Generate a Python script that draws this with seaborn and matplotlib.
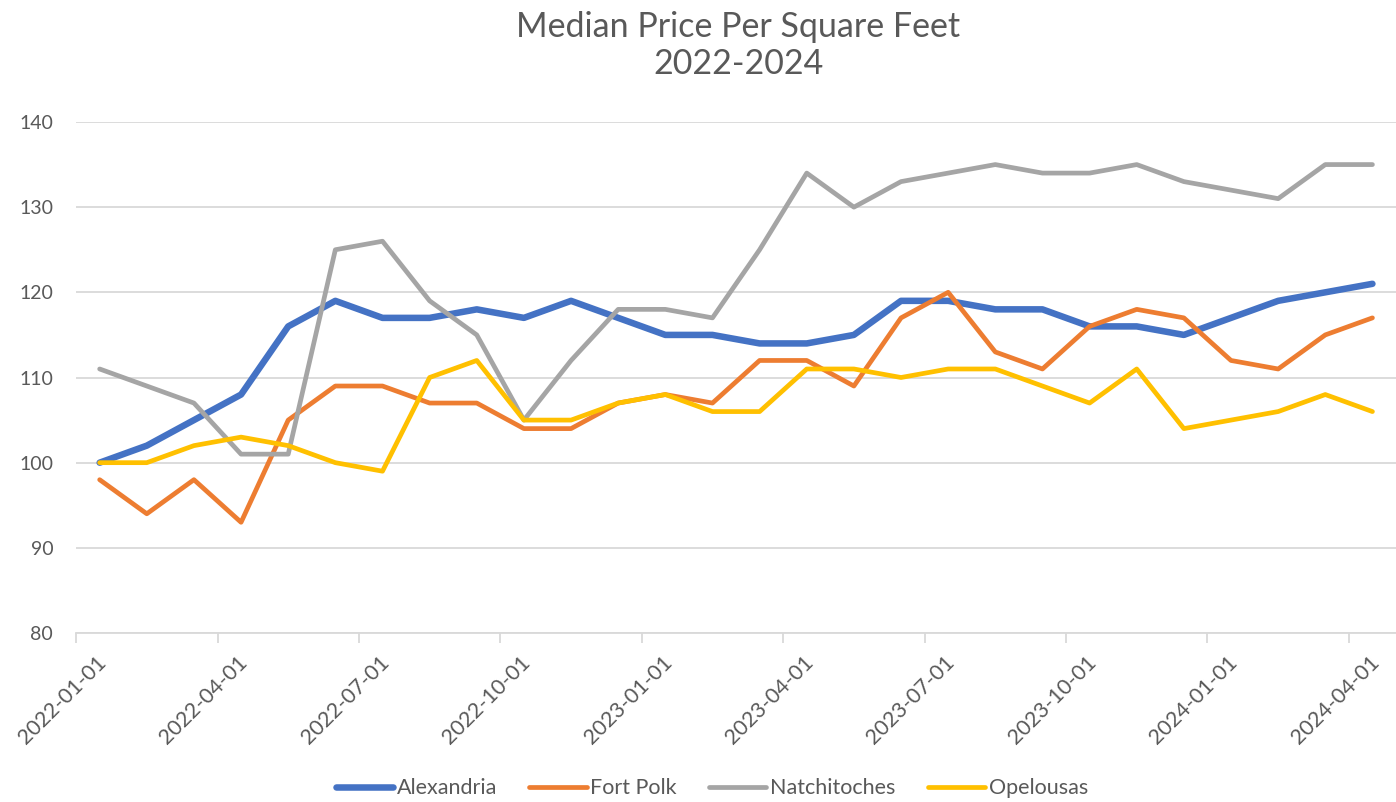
import matplotlib
matplotlib.use("Agg")
import matplotlib.pyplot as plt
import matplotlib.transforms as mtransforms
import seaborn as sns
import pandas as pd
import numpy as np

months = pd.date_range("2022-01-01", "2024-04-01", freq="MS").strftime("%Y-%m-%d").tolist()

alexandria = [100, 102, 105, 108, 116, 119, 117, 117, 118, 117, 119, 117, 115, 115,
              114, 114, 115, 119, 119, 118, 118, 116, 116, 115, 117, 119, 120, 121]
fort_polk = [98, 94, 98, 93, 105, 109, 109, 107, 107, 104, 104, 107, 108, 107,
             112, 112, 109, 117, 120, 113, 111, 116, 118, 117, 112, 111, 115, 117]
natchitoches = [111, 109, 107, 101, 101, 125, 126, 119, 115, 105, 112, 118, 118, 117,
                125, 134, 130, 133, 134, 135, 134, 134, 135, 133, 132, 131, 135, 135]
opelousas = [100, 100, 102, 103, 102, 100, 99, 110, 112, 105, 105, 107, 108, 106,
             106, 111, 111, 110, 111, 111, 109, 107, 111, 104, 105, 106, 108, 106]

series_names = ["Alexandria", "Fort Polk", "Natchitoches", "Opelousas"]
series_values = [alexandria, fort_polk, natchitoches, opelousas]
colors = ["#4472C4", "#ED7D31", "#A5A5A5", "#FFC000"]
widths = [4.7, 3.4, 3.4, 3.4]

tick_labels = months[::3]

frames = []
for name, vals in zip(series_names, series_values):
    frames.append(pd.DataFrame({"month": months, "pos": np.arange(len(months)),
                                "city": name, "price": vals}))
df = pd.concat(frames, ignore_index=True)

sns.set_theme(style="white")
plt.rcParams["font.family"] = ["Lato", "DejaVu Sans"]
text_color = "#595959"
grid_color = "#D9D9D9"

fig = plt.figure(figsize=(13.96, 8.02), dpi=100)
ax = fig.add_axes([0.0545, 0.2107, 0.9455, 0.6372])

for name, color, lw in zip(series_names, colors, widths):
    sns.lineplot(data=df[df.city == name], x="pos", y="price", color=color,
                 linewidth=lw, label=name, ax=ax, solid_capstyle="round",
                 solid_joinstyle="round")

ax.set_xlim(-0.5, len(months) - 0.5)
ax.set_ylim(80, 140)
ax.set_yticks(np.arange(80, 141, 10))
ax.yaxis.grid(True, color=grid_color, linewidth=1.3)
ax.set_axisbelow(True)

# quarterly ticks sit on the boundaries between monthly categories
tick_pos = np.arange(len(tick_labels)) * 3 - 0.5
ax.set_xticks(tick_pos)
ax.set_xticklabels(tick_labels, rotation=45, ha="right", va="center",
                   rotation_mode="anchor", fontsize=15.5, color=text_color)
ax.tick_params(axis="x", length=7, width=1.3, color=grid_color, pad=0, direction="out",
               bottom=True)
ax.tick_params(axis="y", length=0, labelsize=14, labelcolor=text_color, pad=16.5)
shift = mtransforms.ScaledTranslation(27 / 100, -17 / 100, fig.dpi_scale_trans)
for lbl in ax.get_xticklabels():
    lbl.set_transform(lbl.get_transform() + shift)

for side in ["top", "right", "left"]:
    ax.spines[side].set_visible(False)
ax.spines["bottom"].set_color(grid_color)
ax.spines["bottom"].set_linewidth(1.3)

ax.set_xlabel("")
ax.set_ylabel("")

fig.text(0.529, 0.986, "Median Price Per Square Feet\n2022-2024", ha="center", va="top",
         fontsize=24.5, color=text_color, linespacing=1.2)

leg = ax.legend(loc="center", ncol=4, frameon=False, fontsize=15.5, handlelength=2.65,
                handletextpad=0.18, columnspacing=1.5)
leg.set_bbox_to_anchor((0.51, 0.017), transform=fig.transFigure)
for txt in leg.get_texts():
    txt.set_color(text_color)

fig.savefig("out.png", dpi=100, facecolor="white")
